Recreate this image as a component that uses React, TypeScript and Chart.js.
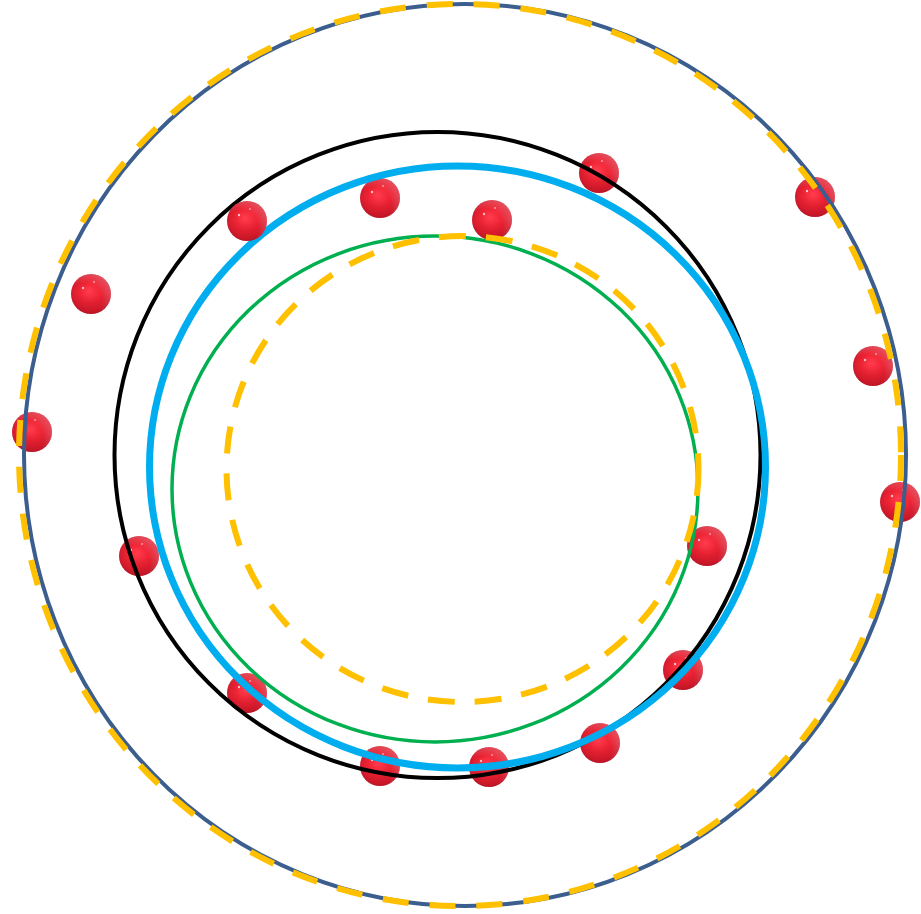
import React, { useEffect, useRef } from 'react';
import { Chart, registerables } from 'chart.js';

Chart.register(...registerables);

// Sample points (behind the fitted circles)
const backX = [-369, -428, -321, -80, 32, 139, 355, 413, 440, 247, 223, 140, 29, -80, -213];
const backY = [163, 25, -99, 259, 237, 284, 260, 91, -45, -89, -213, -286, -310, -309, -236];
// Sample points drawn in front of the circles
const frontX = [-213];
const frontY = [236];

// Fitted circles / ellipses (centre and radii in data units)
const circleLabels = ['Outer boundary', 'Outer fit', 'Fit A', 'Fit B', 'Fit C', 'Inner fit'];
const circleCx = [5, 0, -22.5, -2.5, -25, 2.5];
const circleCy = [2, 2, 2, -10, -32, -12];
const circleRx = [441, 441, 323, 308, 263, 236];
const circleRy = [451, 451, 323, 301, 253, 233];

// Styles
const circleColors = ['#3B5E8E', '#FFC000', '#000000', '#00AEEF', '#00B050', '#FFC000'];
const circleWidths = [4, 6, 4, 7, 3.5, 6];
const circleDashes: number[][] = [[], [26, 21], [], [], [], [27, 20]];

function makeSphere(r: number): HTMLCanvasElement {
  const c = document.createElement('canvas');
  const size = r * 2 + 2;
  c.width = size;
  c.height = size;
  const g = c.getContext('2d')!;
  const cx = size / 2;
  const cy = size / 2;
  const grad = g.createRadialGradient(cx - 2, cy - 3, 1, cx, cy, r);
  grad.addColorStop(0, '#FF3A4C');
  grad.addColorStop(0.5, '#EE2434');
  grad.addColorStop(0.85, '#DC1E30');
  grad.addColorStop(1, '#C81C2E');
  g.fillStyle = grad;
  g.beginPath();
  g.arc(cx, cy, r, 0, Math.PI * 2);
  g.fill();
  // lighter rim at upper right
  const rim = g.createRadialGradient(cx - r * 0.35, cy + r * 0.35, r * 0.9, cx - r * 0.2, cy + r * 0.2, r * 1.5);
  rim.addColorStop(0, 'rgba(255,150,160,0)');
  rim.addColorStop(1, 'rgba(255,150,160,0.6)');
  g.fillStyle = rim;
  g.beginPath();
  g.arc(cx, cy, r, 0, Math.PI * 2);
  g.fill();
  // slightly darker bottom
  const dark = g.createLinearGradient(0, cy, 0, cy + r);
  dark.addColorStop(0, 'rgba(140,0,15,0)');
  dark.addColorStop(1, 'rgba(140,0,15,0.25)');
  g.fillStyle = dark;
  g.beginPath();
  g.arc(cx, cy, r, 0, Math.PI * 2);
  g.fill();
  // specular dots
  g.fillStyle = 'rgba(255,255,255,0.7)';
  g.beginPath();
  g.arc(cx - r * 0.4, cy - r * 0.3, 1.2, 0, Math.PI * 2);
  g.fill();
  g.fillStyle = 'rgba(255,255,255,0.5)';
  g.beginPath();
  g.arc(cx + r * 0.15, cy - r * 0.6, 1, 0, Math.PI * 2);
  g.fill();
  return c;
}

const circlesPlugin = {
  id: 'fittedCircles',
  afterDatasetDraw(chart: any, args: any) {
    if (args.index !== 0) return;
    const ctx: CanvasRenderingContext2D = chart.ctx;
    const xs = chart.scales.x;
    const ys = chart.scales.y;
    ctx.save();
    for (let i = 0; i < circleLabels.length; i++) {
      const px = xs.getPixelForValue(circleCx[i]);
      const py = ys.getPixelForValue(circleCy[i]);
      const rx = Math.abs(xs.getPixelForValue(circleCx[i] + circleRx[i]) - px);
      const ry = Math.abs(ys.getPixelForValue(circleCy[i] + circleRy[i]) - py);
      ctx.beginPath();
      ctx.setLineDash(circleDashes[i]);
      ctx.lineWidth = circleWidths[i];
      ctx.strokeStyle = circleColors[i];
      ctx.lineCap = 'butt';
      ctx.ellipse(px, py, rx, ry, 0, 0, Math.PI * 2);
      ctx.stroke();
    }
    ctx.restore();
  },
};

export default function App() {
  const ref = useRef<HTMLCanvasElement | null>(null);

  useEffect(() => {
    document.body.style.margin = '0';
    const canvas = ref.current;
    if (!canvas) return;
    const sphere = makeSphere(20);
    const chart = new Chart(canvas, {
      type: 'scatter',
      data: {
        datasets: [
          {
            label: 'back',
            data: backX.map((x, i) => ({ x, y: backY[i] })),
            pointStyle: sphere as any,
            pointRadius: 20,
            order: 2,
            clip: false as any,
          },
          {
            label: 'front',
            data: frontX.map((x, i) => ({ x, y: frontY[i] })),
            pointStyle: sphere as any,
            pointRadius: 20,
            order: 1,
            clip: false as any,
          },
        ],
      },
      options: {
        responsive: false,
        animation: false,
        devicePixelRatio: 1,
        layout: { padding: 0, autoPadding: false },
        plugins: {
          legend: { display: false },
          tooltip: { enabled: false },
        },
        scales: {
          x: { type: 'linear', min: -460, max: 461, display: false },
          y: { type: 'linear', min: -457, max: 457, display: false },
        },
      },
      plugins: [circlesPlugin],
    });
    return () => chart.destroy();
  }, []);

  return (
    <div style={{ width: 921, height: 914, background: '#ffffff' }}>
      <canvas ref={ref} width={921} height={914} style={{ display: 'block' }} />
    </div>
  );
}
